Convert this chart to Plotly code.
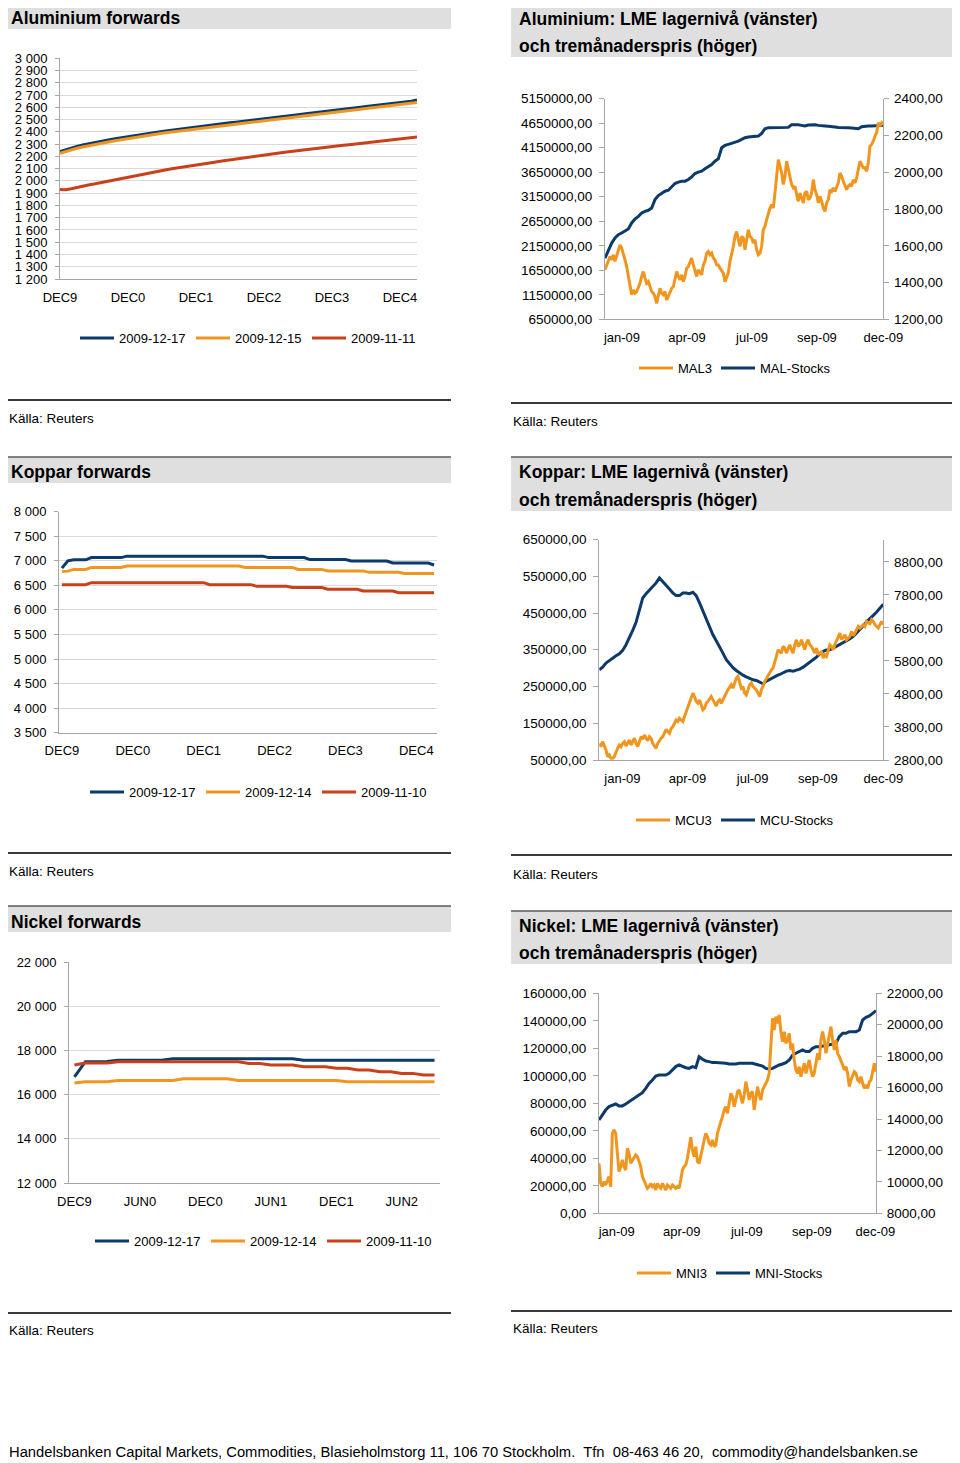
import plotly.graph_objects as go

# The page body adds an 8px margin, so the figure covers page pixels 8..960 x 8..1463.
OFF = 8
W, H = 960 - OFF, 1463 - OFF
def fx(px): return (px - OFF) / W
def fy(py): return 1 - (py - OFF) / H

NAVY = "#0B3A6B"
ORANGE = "#F0961F"
RED = "#C8411B"
AXIS = "#A6A6A6"
GRID = "#D9D9D9"
FONT = "Liberation Sans, Arial, sans-serif"

# ---------------- DATA ----------------
months_al = list(range(64))
al_1217 = [2240, 2256, 2270, 2282, 2293, 2303, 2312, 2321, 2330, 2338, 2346, 2354, 2362,
           2369, 2376, 2383, 2390, 2397, 2404, 2410, 2416, 2422, 2428, 2436, 2443,
           2448, 2453, 2459, 2464, 2469, 2474, 2479, 2484, 2489, 2494, 2500, 2505,
           2511, 2517, 2522, 2528, 2534, 2539, 2545, 2550, 2556, 2562, 2567, 2573,
           2578, 2584, 2589, 2595, 2600, 2606, 2611, 2617, 2622, 2627, 2633, 2638,
           2644, 2650, 2660]
al_1215 = [2225, 2240, 2254, 2266, 2277, 2287, 2296, 2305, 2314, 2322, 2330, 2338, 2346,
           2353, 2360, 2367, 2374, 2381, 2388, 2394, 2400, 2406, 2412, 2420, 2427,
           2432, 2437, 2443, 2448, 2453, 2458, 2463, 2468, 2473, 2478, 2484, 2489,
           2495, 2501, 2506, 2512, 2518, 2523, 2529, 2534, 2540, 2546, 2551, 2557,
           2562, 2568, 2573, 2579, 2584, 2590, 2595, 2601, 2606, 2611, 2617, 2622,
           2628, 2633, 2640]
al_1111 = [1930, 1928, 1936, 1948, 1958, 1967, 1975, 1984, 1993, 2003, 2013, 2024, 2035,
           2044, 2053, 2061, 2069, 2077, 2085, 2093, 2101, 2109, 2116, 2123, 2130,
           2137, 2144, 2151, 2158, 2165, 2172, 2179, 2186, 2193, 2199, 2206, 2212,
           2218, 2224, 2230, 2236, 2242, 2248, 2253, 2258, 2264, 2269, 2275, 2280,
           2285, 2290, 2295, 2300, 2305, 2310, 2315, 2320, 2325, 2330, 2335, 2340,
           2345, 2350, 2358]

months_cu = list(range(64))
cu_1217 = [6850, 7000, 7020, 7020, 7020, 7065, 7065, 7065, 7065, 7065, 7065, 7095, 7095, 7095,
           7095, 7095, 7095, 7095, 7095, 7095, 7095, 7095, 7095, 7095, 7095, 7095, 7095, 7095,
           7095, 7095, 7095, 7095, 7095, 7095, 7095, 7065, 7065, 7065, 7065, 7065, 7065, 7065,
           7025, 7025, 7025, 7025, 7025, 7025, 7025, 6995, 6995, 6995, 6995, 6995, 6995, 6995,
           6955, 6955, 6955, 6955, 6955, 6955, 6955, 6915]
cu_1214 = [6780, 6790, 6825, 6825, 6825, 6865, 6865, 6865, 6865, 6865, 6865, 6895, 6895, 6895,
           6895, 6895, 6895, 6895, 6895, 6895, 6895, 6895, 6895, 6895, 6895, 6895, 6895, 6895,
           6895, 6895, 6895, 6865, 6865, 6865, 6865, 6865, 6865, 6865, 6865, 6865, 6825, 6825,
           6825, 6825, 6825, 6795, 6795, 6795, 6795, 6795, 6795, 6795, 6765, 6765, 6765, 6765,
           6765, 6765, 6740, 6740, 6740, 6740, 6740, 6740]
cu_1110 = [6515, 6515, 6515, 6515, 6515, 6555, 6555, 6555, 6555, 6555, 6555, 6555, 6555, 6555,
           6555, 6555, 6555, 6555, 6555, 6555, 6555, 6555, 6555, 6555, 6555, 6515, 6515, 6515,
           6515, 6515, 6515, 6515, 6515, 6480, 6480, 6480, 6480, 6480, 6480, 6455, 6455, 6455,
           6455, 6455, 6455, 6420, 6420, 6420, 6420, 6420, 6420, 6385, 6385, 6385, 6385, 6385,
           6385, 6350, 6350, 6350, 6350, 6350, 6350, 6350]

months_ni = list(range(34))
ni_1217 = [16800, 17490, 17490, 17500, 17550, 17550, 17550, 17550, 17550, 17620, 17620, 17620,
           17620, 17620, 17620, 17620, 17620, 17620, 17620, 17620, 17620, 17550, 17550, 17550,
           17550, 17550, 17550, 17550, 17550, 17550, 17550, 17550, 17550, 17550]
ni_1214 = [16520, 16580, 16580, 16580, 16640, 16640, 16640, 16640, 16640, 16640, 16720, 16720,
           16720, 16720, 16720, 16640, 16640, 16640, 16640, 16640, 16640, 16640, 16640, 16640,
           16640, 16580, 16580, 16580, 16580, 16580, 16580, 16580, 16580, 16580]
ni_1110 = [17340, 17430, 17430, 17430, 17490, 17490, 17490, 17490, 17490, 17490, 17490, 17490,
           17490, 17490, 17490, 17490, 17410, 17410, 17340, 17340, 17340, 17260, 17260, 17260,
           17190, 17190, 17110, 17110, 17035, 17035, 16960, 16960, 16890, 16890]

fwd_dec_labels = ["DEC9", "DEC0", "DEC1", "DEC2", "DEC3", "DEC4"]
fwd_dec_pos = [0, 12, 24, 36, 48, 60]
ni_labels = ["DEC9", "JUN0", "DEC0", "JUN1", "DEC1", "JUN2"]
ni_pos = [0, 6, 12, 18, 24, 30]

al_yticks = list(range(1200, 3001, 100))
al_ytext = ["1 200", "1 300", "1 400", "1 500", "1 600", "1 700", "1 800", "1 900", "2 000",
            "2 100", "2 200", "2 300", "2 400", "2 500", "2 600", "2 700", "2 800", "2 900", "3 000"]
cu_yticks = [3500, 4000, 4500, 5000, 5500, 6000, 6500, 7000, 7500, 8000]
cu_ytext = ["3 500", "4 000", "4 500", "5 000", "5 500", "6 000", "6 500", "7 000", "7 500", "8 000"]
ni_yticks = [12000, 14000, 16000, 18000, 20000, 22000]
ni_ytext = ["12 000", "14 000", "16 000", "18 000", "20 000", "22 000"]

month_labels = ["jan-09", "apr-09", "jul-09", "sep-09", "dec-09"]

mal3 = [1469, 1496, 1515, 1542, 1524, 1551, 1515, 1542, 1578, 1605,
        1587, 1560, 1524, 1487, 1433, 1378, 1333, 1360, 1342, 1351,
        1369, 1396, 1433, 1460, 1424, 1396, 1405, 1378, 1351, 1342,
        1324, 1287, 1333, 1369, 1342, 1333, 1351, 1305, 1324, 1342,
        1369, 1378, 1415, 1460, 1433, 1415, 1442, 1405, 1433, 1478,
        1487, 1515, 1533, 1496, 1460, 1433, 1469, 1451, 1442, 1496,
        1515, 1560, 1569, 1551, 1560, 1533, 1524, 1496, 1496, 1478,
        1460, 1451, 1405, 1433, 1451, 1515, 1551, 1596, 1651, 1678,
        1633, 1596, 1651, 1642, 1578, 1633, 1687, 1651, 1642, 1615,
        1633, 1578, 1551, 1560, 1596, 1687, 1705, 1742, 1778, 1805,
        1824, 1805, 1887, 1978, 2069, 2033, 1996, 1933, 1978, 2060,
        2015, 1960, 1933, 1915, 1924, 1878, 1842, 1887, 1860, 1833,
        1887, 1896, 1851, 1860, 1887, 1960, 1905, 1878, 1833, 1869,
        1842, 1805, 1787, 1833, 1851, 1905, 1896, 1915, 1896, 1915,
        1942, 1996, 1978, 1951, 1924, 1905, 1924, 1933, 1924, 1960,
        1942, 1969, 2015, 2060, 2042, 2024, 2024, 2005, 2051, 2142,
        2151, 2169, 2196, 2215, 2269, 2251, 2269, 2260]
mal_stocks = [1898000, 2069000, 2205000, 2308000, 2376000, 2410000, 2444000, 2492000, 2615000, 2696000,
              2751000, 2819000, 2853000, 2874000, 2921000, 3092000, 3174000, 3228000, 3263000, 3283000,
              3351000, 3419000, 3447000, 3467000, 3467000, 3501000, 3556000, 3624000, 3651000, 3672000,
              3720000, 3761000, 3808000, 3876000, 3924000, 4149000, 4197000, 4218000, 4238000, 4265000,
              4286000, 4320000, 4354000, 4368000, 4374000, 4388000, 4388000, 4443000, 4538000, 4559000,
              4559000, 4559000, 4559000, 4559000, 4559000, 4565000, 4620000, 4627000, 4620000, 4606000,
              4593000, 4613000, 4620000, 4620000, 4606000, 4593000, 4593000, 4586000, 4572000, 4572000,
              4565000, 4565000, 4572000, 4559000, 4552000, 4538000, 4538000, 4579000, 4593000, 4593000,
              4593000, 4593000, 4593000, 4593000, 4606000]

mcu3 = [3306, 3205, 3357, 3255, 3104, 2901, 2952, 2851, 2851, 2901,
        3053, 3154, 3255, 3205, 3306, 3357, 3225, 3306, 3407, 3255,
        3387, 3458, 3306, 3205, 3357, 3508, 3427, 3559, 3458, 3387,
        3508, 3458, 3306, 3225, 3154, 3306, 3407, 3458, 3508, 3630,
        3731, 3660, 3610, 3751, 3812, 3913, 4014, 3964, 4065, 4014,
        3964, 4116, 4267, 4369, 4520, 4672, 4824, 4723, 4571, 4520,
        4622, 4470, 4318, 4369, 4520, 4571, 4672, 4723, 4622, 4520,
        4439, 4571, 4622, 4520, 4622, 4773, 4824, 4925, 5026, 5077,
        4976, 5128, 5279, 5330, 5128, 4976, 5026, 4824, 4773, 4925,
        5077, 5128, 5026, 4976, 4925, 4824, 4723, 4925, 5026, 5178,
        5279, 5330, 5431, 5532, 5583, 5735, 5937, 6140, 6089, 6038,
        6241, 6190, 6038, 6140, 6291, 6140, 6038, 6291, 6443, 6241,
        6291, 6443, 6291, 6140, 6342, 6443, 6291, 6241, 6140, 6038,
        6190, 5988, 6038, 6089, 5887, 5988, 5937, 6089, 6291, 6241,
        6140, 6291, 6393, 6494, 6646, 6443, 6544, 6595, 6443, 6494,
        6544, 6696, 6565, 6646, 6747, 6848, 6797, 6848, 6899, 6848,
        7000, 6949, 6929, 7050, 7000, 6899, 6848, 6797, 6899, 7000, 6899]
mcu_stocks = [295500, 302700, 313600, 320900, 326400, 333600, 339100, 348200, 363600, 381800,
              402700, 424500, 454500, 490900, 502700, 511800, 520900, 531800, 545500, 536400,
              527300, 515500, 504500, 497300, 497300, 504500, 504500, 502700, 506400, 497300,
              477300, 454500, 431800, 411800, 390900, 374500, 359100, 340900, 322700, 310900,
              300900, 293600, 286400, 280900, 276400, 271800, 268200, 266400, 262700, 257300,
              264500, 270000, 274500, 279100, 282700, 288200, 291800, 293600, 291800, 294500,
              297300, 302700, 309100, 315500, 322700, 330000, 339100, 345500, 349100, 350000,
              354500, 359100, 365500, 370000, 374500, 380000, 386400, 395500, 404500, 415500,
              426400, 436400, 443600, 452700, 463600, 473600]

mni3 = [11182, 9909, 9697, 10015, 9803, 10121, 10333, 9697, 13090, 13303,
        13090, 11818, 10651, 10969, 11394, 10969, 10757, 12136, 11818, 11182,
        11394, 11606, 11712, 11606, 11288, 10969, 10333, 10121, 9803, 9591,
        9697, 9909, 9697, 9803, 9485, 9909, 9697, 9591, 9909, 9697,
        9485, 9803, 9697, 9591, 9803, 9697, 9591, 9697, 9591, 10121,
        10757, 10969, 11075, 11500, 12242, 12836, 12030, 11606, 12242, 11288,
        11182, 11606, 12136, 12666, 13090, 12878, 12454, 12348, 12666, 12242,
        12348, 13090, 13515, 13833, 14151, 14575, 14787, 14363, 14999, 15636,
        15424, 14787, 15211, 15742, 15848, 15424, 14999, 15530, 16378, 15848,
        15211, 15636, 15742, 14575, 15424, 16060, 15530, 15211, 15848, 16060,
        16378, 16484, 16908, 18393, 20408, 19666, 20514, 20090, 20620, 19559,
        18923, 19559, 18817, 19029, 19453, 18393, 18817, 17757, 17120, 16908,
        17332, 16696, 17120, 17545, 16908, 17332, 17757, 17120, 16696, 16908,
        17545, 18181, 17757, 19029, 19559, 19029, 18181, 18817, 19241, 19878,
        19029, 18393, 19029, 18181, 17969, 17757, 17438, 17120, 17332, 16908,
        16060, 16484, 16802, 17014, 16908, 16484, 16378, 16696, 16272, 15954,
        16166, 15954, 16378, 16484, 17014, 17545, 17014]
mni_stocks = [67900, 71500, 75100, 77600, 78800, 79500, 78100, 78100, 79500, 81200,
              82900, 84400, 86100, 87700, 90900, 94500, 97000, 99900, 100600, 100600,
              100600, 101800, 104200, 106700, 107900, 106700, 105900, 105400, 106700, 105900,
              113900, 112000, 110800, 110300, 109600, 109600, 109600, 109100, 109100, 108600,
              108400, 108600, 109100, 109100, 109100, 109100, 109100, 108400, 107900, 107100,
              105400, 105000, 105400, 106700, 107900, 108600, 109600, 111500, 115100, 116400,
              117600, 118800, 117600, 117600, 120000, 121200, 121200, 121700, 122400, 123100,
              123600, 123600, 128500, 130900, 130900, 132100, 132100, 132100, 133300, 140600,
              142500, 143500, 145400, 147400]

al_left_ticks = [650000, 1150000, 1650000, 2150000, 2650000, 3150000, 3650000, 4150000, 4650000, 5150000]
al_right_ticks = [1200, 1400, 1600, 1800, 2000, 2200, 2400]
cu_left_ticks = [50000, 150000, 250000, 350000, 450000, 550000, 650000]
cu_right_ticks = [2800, 3800, 4800, 5800, 6800, 7800, 8800]
ni_left_ticks = [0, 20000, 40000, 60000, 80000, 100000, 120000, 140000, 160000]
ni_right_ticks = [8000, 10000, 12000, 14000, 16000, 18000, 20000, 22000]

def comma2(v):
    return f"{v},00"

# ---------------- FIGURE ----------------
fig = go.Figure()
legends = {}
ITEM_W = 34
LEG_OFF = 45  # distance from legend x to start of its text

def add_line(x, y, name, color, xa, ya, text_x, text_y):
    key = "legend" if not legends else f"legend{len(legends) + 1}"
    legends[key] = dict(orientation="h", x=fx(text_x - LEG_OFF), y=fy(text_y),
                        xanchor="left", yanchor="middle",
                        font=dict(size=13, color="black", family=FONT),
                        bgcolor="rgba(0,0,0,0)", borderwidth=0, itemwidth=ITEM_W)
    fig.add_trace(go.Scatter(x=x, y=y, name=name, mode="lines",
                             line=dict(color=color, width=3), xaxis=xa, yaxis=ya,
                             legend=key, hoverinfo="skip"))

def fine_x(vals):
    return list(range(len(vals)))

def coarse_x(vals, last):
    return [min(2 * i, last) for i in range(len(vals))]

# Panel 1
add_line(months_al, al_1217, "2009-12-17", NAVY, "x", "y", 120, 338)
add_line(months_al, al_1215, "2009-12-15", ORANGE, "x", "y", 236, 338)
add_line(months_al, al_1111, "2009-11-11", RED, "x", "y", 352, 338)
# Panel 2
add_line(fine_x(mal3), mal3, "MAL3", ORANGE, "x2", "y3", 679, 368)
add_line(coarse_x(mal_stocks, 167), mal_stocks, "MAL-Stocks", NAVY, "x2", "y2", 761, 368)
# Panel 3
add_line(months_cu, cu_1217, "2009-12-17", NAVY, "x3", "y4", 130, 792)
add_line(months_cu, cu_1214, "2009-12-14", ORANGE, "x3", "y4", 246, 792)
add_line(months_cu, cu_1110, "2009-11-10", RED, "x3", "y4", 362, 792)
# Panel 4
add_line(fine_x(mcu3), mcu3, "MCU3", ORANGE, "x4", "y6", 676, 820)
add_line(coarse_x(mcu_stocks, 170), mcu_stocks, "MCU-Stocks", NAVY, "x4", "y5", 761, 820)
# Panel 5
add_line(months_ni, ni_1217, "2009-12-17", NAVY, "x5", "y7", 135, 1241)
add_line(months_ni, ni_1214, "2009-12-14", ORANGE, "x5", "y7", 251, 1241)
add_line(months_ni, ni_1110, "2009-11-10", RED, "x5", "y7", 367, 1241)
# Panel 6
add_line(fine_x(mni3), mni3, "MNI3", ORANGE, "x6", "y9", 677, 1273)
add_line(coarse_x(mni_stocks, 166), mni_stocks, "MNI-Stocks", NAVY, "x6", "y8", 756, 1273)

TICKF = dict(size=13, color="black", family=FONT)
TICKR = dict(size=13.5, color="black", family=FONT)

def xax(d0, d1, rng, tv, tt, anchor):
    return dict(domain=[fx(d0), fx(d1)], range=rng, tickvals=tv, ticktext=tt, anchor=anchor,
                showgrid=False, showline=True, linecolor=AXIS, linewidth=1, ticks="",
                zeroline=False, tickfont=TICKF, ticklabelstandoff=6, fixedrange=True,
                automargin=False)

def yfwd(top, bot, rng, tv, tt, anchor):
    return dict(domain=[fy(bot), fy(top)], range=rng, tickvals=tv, ticktext=tt, anchor=anchor,
                showgrid=True, gridcolor=GRID, gridwidth=1, showline=True, linecolor=AXIS,
                ticks="outside", ticklen=4, tickcolor=AXIS, zeroline=False, tickfont=TICKF,
                ticklabelstandoff=5, fixedrange=True, automargin=False)

def yleft(top, bot, rng, tv, anchor):
    return dict(domain=[fy(bot), fy(top)], range=rng, tickvals=tv, ticktext=[comma2(v) for v in tv],
                anchor=anchor, showgrid=False, showline=True, linecolor=AXIS, ticks="outside",
                ticklen=5, tickcolor=AXIS, zeroline=False, tickfont=TICKR, ticklabelstandoff=4,
                fixedrange=True, automargin=False)

def yright(over, rng, tv, anchor):
    return dict(overlaying=over, side="right", range=rng, tickvals=tv,
                ticktext=[comma2(v) for v in tv], anchor=anchor, showgrid=False, showline=True,
                linecolor=AXIS, ticks="outside", ticklen=5, tickcolor=AXIS, zeroline=False,
                tickfont=TICKR, ticklabelstandoff=2, fixedrange=True, automargin=False)

fig.update_layout(
    width=W, height=H, margin=dict(l=0, r=0, t=0, b=0, pad=0, autoexpand=False),
    paper_bgcolor="white", plot_bgcolor="white",
    font=dict(family=FONT, size=13, color="black"),
    xaxis=xax(60, 417, [0, 63], fwd_dec_pos, fwd_dec_labels, "y"),
    yaxis=yfwd(58.3, 279, [1200, 3000], al_yticks, al_ytext, "x"),
    xaxis2=xax(605, 883.3, [0, 167], [10.2, 49.2, 88.2, 127.2, 167], month_labels, "y2"),
    yaxis2=yleft(98.7, 319.3, [650000, 5150000], al_left_ticks, "x2"),
    yaxis3=yright("y2", [1200, 2400], al_right_ticks, "x2"),
    xaxis3=xax(59, 437, [-0.5, 63.5], fwd_dec_pos, fwd_dec_labels, "y4"),
    yaxis4=yfwd(511.7, 732.7, [3500, 8000], cu_yticks, cu_ytext, "x3"),
    xaxis4=xax(599.3, 883.3, [0, 170], [13.8, 52.8, 91.8, 130.8, 170], month_labels, "y5"),
    yaxis5=yleft(539.5, 760, [50000, 650000], cu_left_ticks, "x4"),
    yaxis6=yright("y5", [2800, 9480], cu_right_ticks, "x4"),
    xaxis5=xax(69, 440, [-0.5, 33.5], ni_pos, ni_labels, "y7"),
    yaxis7=yfwd(962, 1183, [12000, 22000], ni_yticks, ni_ytext, "x5"),
    xaxis6=xax(599, 876, [0, 166], [10.6, 49.6, 88.6, 127.6, 165.6], month_labels, "y8"),
    yaxis8=yleft(993.3, 1213.3, [0, 160000], ni_left_ticks, "x6"),
    yaxis9=yright("y8", [8000, 22000], ni_right_ticks, "x6"),
    showlegend=True,
)
fig.update_layout(**legends)

def band(x0, x1, y0, y1):
    fig.add_shape(type="rect", xref="paper", yref="paper", x0=fx(x0), x1=fx(x1),
                  y0=fy(y1), y1=fy(y0), fillcolor="#DFDFDF", line_width=0, layer="below")
    fig.add_shape(type="line", xref="paper", yref="paper", x0=fx(x0), x1=fx(x1),
                  y0=fy(y0), y1=fy(y0), line=dict(color="#5A5A5A", width=1.5))

def text(xpx, ypx, s, size, bold=False):
    fig.add_annotation(xref="paper", yref="paper", x=fx(xpx), y=fy(ypx), text=f"<b>{s}</b>" if bold else s,
                       showarrow=False, xanchor="left", yanchor="middle",
                       font=dict(size=size, color="black", family=FONT), borderpad=0)

def sep(x0, x1, ypx):
    fig.add_shape(type="line", xref="paper", yref="paper", x0=fx(x0), x1=fx(x1),
                  y0=fy(ypx), y1=fy(ypx), line=dict(color="#3A3A3A", width=2))

band(3, 451, 3, 29)
text(10, 18.5, "Aluminium forwards", 17.5, True)
band(511, 958, 3, 57)
text(518, 19, "Aluminium: LME lagernivå (vänster)", 17.5, True)
text(518, 46, "och tremånaderspris (höger)", 17.5, True)

band(3, 451, 457, 483)
text(10, 472, "Koppar forwards", 17.5, True)
band(511, 958, 457, 511)
text(518, 472.5, "Koppar: LME lagernivå (vänster)", 17.5, True)
text(518, 500, "och tremånaderspris (höger)", 17.5, True)

band(3, 451, 906, 932)
text(10, 921.5, "Nickel forwards", 17.5, True)
band(511, 958, 911, 964)
text(518, 926, "Nickel: LME lagernivå (vänster)", 17.5, True)
text(518, 953, "och tremånaderspris (höger)", 17.5, True)

sep(3, 451, 400)
text(8, 418, "Källa: Reuters", 13.5)
sep(511, 958, 403)
text(512, 421, "Källa: Reuters", 13.5)
sep(3, 451, 853)
text(8, 871, "Källa: Reuters", 13.5)
sep(511, 958, 855)
text(512, 874, "Källa: Reuters", 13.5)
sep(3, 451, 1313)
text(8, 1330, "Källa: Reuters", 13.5)
sep(511, 958, 1311)
text(512, 1328, "Källa: Reuters", 13.5)

text(8, 1452, "Handelsbanken Capital Markets, Commodities, Blasieholmstorg 11, 106 70 Stockholm.\u00a0 Tfn\u00a0 08-463 46 20,\u00a0 commodity@handelsbanken.se", 14.75)

fig.write_html("out.html")
